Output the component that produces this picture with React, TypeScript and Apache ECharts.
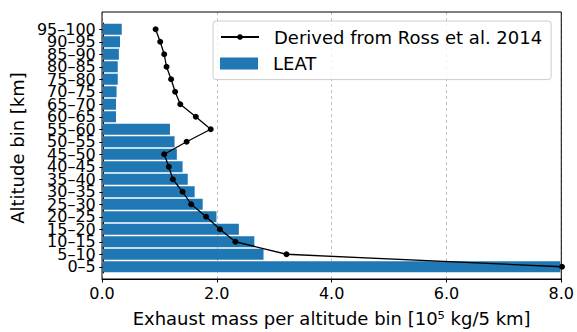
import React, { useEffect, useRef } from "react";
import * as echarts from "echarts";

const categories = ["0–5", "5–10", "10–15", "15–20", "20–25", "25–30", "30–35", "35–40", "40–45", "45–50", "50–55", "55–60", "60–65", "65–70", "70–75", "75–80", "80–85", "85–90", "90–95", "95–100"];
const leatValues = [7.97, 2.80, 2.64, 2.37, 1.98, 1.74, 1.60, 1.48, 1.39, 1.29, 1.25, 1.17, 0.23, 0.23, 0.24, 0.26, 0.26, 0.28, 0.30, 0.33];
const rossValues = [8.0, 3.2, 2.31, 2.04, 1.80, 1.54, 1.39, 1.22, 1.15, 1.07, 1.46, 1.88, 1.62, 1.35, 1.26, 1.19, 1.11, 1.07, 1.00, 0.92];
const xTicks = [0, 2, 4, 6, 8];

const FONT = "DejaVu Sans";
const ROSS = "Derived from Ross et al. 2014";
const LEAT = "LEAT";

export default function App() {
  const ref = useRef<HTMLDivElement>(null);
  useEffect(() => {
    if (!ref.current) return;
    const chart = echarts.init(ref.current, null, { renderer: "svg" });
    const legendText = { fontSize: 18, fontFamily: FONT, color: "#000", lineHeight: 20, padding: [0, 0, 0, 10] };
    chart.setOption({
      animation: false,
      backgroundColor: "#fff",
      textStyle: { fontFamily: FONT },
      grid: [
        { left: 102, right: 15, top: 12, bottom: 48, show: true, borderColor: "#000", borderWidth: 1, backgroundColor: "transparent", z: 10 },
        { left: 102, right: 15, top: 23, height: 250 },
      ],
      legend: [
        {
          orient: "vertical",
          left: 213,
          top: 21,
          padding: [6, 9, 32.6, 7],
          itemWidth: 38,
          itemHeight: 7,
          backgroundColor: "rgba(255,255,255,0.8)",
          borderColor: "#cccccc",
          borderWidth: 1,
          borderRadius: 3,
          textStyle: legendText,
          data: [{ name: ROSS }],
          z: 30,
        },
        {
          orient: "vertical",
          left: 213,
          top: 53.6,
          padding: [0, 0, 0, 7],
          itemWidth: 38,
          itemHeight: 12,
          textStyle: legendText,
          data: [{ name: LEAT, icon: "rect" }],
          z: 31,
        },
      ],
      xAxis: [
        {
          type: "value",
          gridIndex: 0,
          min: xTicks[0],
          max: xTicks[xTicks.length - 1],
          interval: 2,
          axisLine: { show: true, lineStyle: { color: "#000", width: 1 } },
          axisTick: { show: true, length: 3.5, lineStyle: { color: "#000" } },
          axisLabel: { fontSize: 16, fontFamily: FONT, color: "#000", margin: 6, formatter: (v: number) => v.toFixed(1) },
          splitLine: { show: true, lineStyle: { color: "#b0b0b0", type: [3, 3], width: 0.8 } },
          name: "Exhaust mass per altitude bin [10⁵ kg/5 km]",
          nameLocation: "middle",
          nameGap: 30,
          nameTextStyle: { fontSize: 18, fontFamily: FONT, color: "#000" },
        },
        { type: "value", gridIndex: 1, min: 0, max: 8, show: false },
      ],
      yAxis: [
        { type: "value", gridIndex: 0, show: false, min: 0, max: 1 },
        {
          type: "category",
          gridIndex: 1,
          data: categories,
          axisLine: { show: true, lineStyle: { color: "#000", width: 1 } },
          axisTick: { show: true, alignWithLabel: true, length: 3.5, lineStyle: { color: "#000" } },
          axisLabel: { interval: 0, fontSize: 16, fontFamily: FONT, color: "#000", margin: 7 },
          name: "Altitude bin [km]",
          nameLocation: "middle",
          nameRotate: 90,
          nameGap: 69,
          nameTextStyle: { fontSize: 18, fontFamily: FONT, color: "#000" },
        },
      ],
      series: [
        {
          name: LEAT,
          type: "bar",
          xAxisIndex: 1,
          yAxisIndex: 1,
          data: leatValues,
          barCategoryGap: "12%",
          itemStyle: { color: "#1f77b4" },
          z: 2,
        },
        {
          name: ROSS,
          type: "line",
          xAxisIndex: 1,
          yAxisIndex: 1,
          data: rossValues,
          symbol: "circle",
          symbolSize: 6,
          clip: false,
          lineStyle: { color: "#000", width: 1.3 },
          itemStyle: { color: "#000" },
          z: 20,
        },
      ],
    });
    return () => chart.dispose();
  }, []);
  return <div ref={ref} style={{ position: "fixed", left: 0, top: 0, width: 577, height: 332 }} />;
}
